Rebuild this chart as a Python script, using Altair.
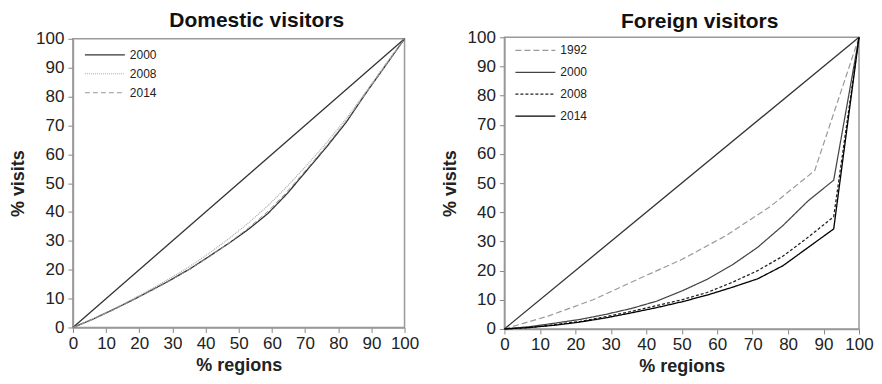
import altair as alt
import pandas as pd

# ---------------- data ----------------
equal_x = [0, 100]
equal_y = [0, 100]

dom_x = [0, 5.88, 11.76, 17.65, 23.53, 29.41, 35.29, 41.18, 47.06, 52.94,
         58.82, 64.71, 70.59, 76.47, 82.35, 88.24, 94.12, 100]
dom_2000 = [0, 2.8, 6.0, 9.3, 12.8, 16.4, 20.3, 24.7, 29.2, 34.0,
            39.5, 46.5, 54.5, 62.5, 71.0, 81.0, 90.5, 100]
dom_2008 = [0, 2.9, 6.1, 9.6, 13.3, 17.1, 21.2, 25.8, 30.8, 36.2,
            42.2, 49.0, 56.3, 64.0, 72.3, 81.5, 91.0, 100]
dom_2014 = [0, 2.7, 5.8, 9.2, 12.7, 16.3, 20.2, 24.5, 29.3, 34.5,
            40.2, 47.2, 55.0, 63.0, 71.5, 81.0, 90.5, 100]

for_x92 = [0, 12.5, 25, 37.5, 50, 62.5, 75, 87.5, 100]
for_1992 = [0, 4.5, 10.0, 17.0, 23.8, 32.0, 42.0, 54.3, 100]

for_x = [0, 7.14, 14.29, 21.43, 28.57, 35.71, 42.86, 50, 57.14, 64.29,
         71.43, 78.57, 85.71, 92.86, 100]
for_2000 = [0, 0.8, 2.0, 3.3, 5.0, 7.0, 9.5, 13.0, 17.0, 22.0,
            28.0, 35.5, 44.0, 51.0, 100]
for_2008 = [0, 0.5, 1.5, 2.6, 4.2, 6.0, 8.0, 10.0, 12.5, 16.0,
            20.0, 25.0, 31.5, 38.5, 100]
for_2014 = [0, 0.5, 1.3, 2.4, 3.8, 5.5, 7.3, 9.3, 11.6, 14.3,
            17.2, 21.7, 28.0, 34.3, 100]

ticks = list(range(0, 101, 10))

FONT = "Liberation Sans"


def long_df(series):
    rows = []
    for name, (xv, yv) in series.items():
        for i, (a, b) in enumerate(zip(xv, yv)):
            rows.append({"x": a, "y": b, "year": name, "order": i})
    return pd.DataFrame(rows)


def panel(title, df, years, colors, dashes, widths, w, h, toff, clip, rpad, lx, ly):
    xsc = alt.Scale(domain=[0, 100], nice=False)
    ysc = alt.Scale(domain=[0, 100], nice=False)
    xax = alt.Axis(values=ticks, title="% regions", labelFlush=False, labelOverlap=False,
                   grid=False, labelPadding=3, titlePadding=5)
    yax = alt.Axis(values=ticks, title="% visits", labelOverlap=False, grid=False,
                   labelPadding=4, titlePadding=8)
    eq = alt.Chart(pd.DataFrame({"x": equal_x, "y": equal_y})).mark_line(
        color="#333", strokeWidth=1.3
    ).encode(
        x=alt.X("x:Q", scale=xsc, axis=xax),
        y=alt.Y("y:Q", scale=ysc, axis=yax),
    )
    legend = alt.Legend(
        orient="none", legendX=lx, legendY=ly, title=None, symbolType="stroke",
        symbolSize=1600, clipHeight=clip, rowPadding=rpad,
        labelFont=FONT, labelFontSize=12, labelColor="#222", padding=0,
    )
    lines = alt.Chart(df).mark_line().encode(
        x=alt.X("x:Q", scale=xsc, axis=xax),
        y=alt.Y("y:Q", scale=ysc, axis=yax),
        order="order:Q",
        color=alt.Color("year:N", scale=alt.Scale(domain=years, range=colors), legend=legend),
        strokeDash=alt.StrokeDash("year:N", scale=alt.Scale(domain=years, range=dashes), legend=legend),
        strokeWidth=alt.StrokeWidth("year:N", scale=alt.Scale(domain=years, range=widths), legend=legend),
    )
    return alt.layer(eq, lines).properties(
        width=w, height=h,
        title=alt.TitleParams(title, fontSize=21, fontWeight="bold", font=FONT,
                              dx=18, offset=toff, frame="group", color="#111"),
    )


dom_df = long_df({"2000": (dom_x, dom_2000), "2008": (dom_x, dom_2008), "2014": (dom_x, dom_2014)})
for_df = long_df({"1992": (for_x92, for_1992), "2000": (for_x, for_2000),
                  "2008": (for_x, for_2008), "2014": (for_x, for_2014)})

left = panel("Domestic visitors", dom_df, ["2000", "2008", "2014"],
             ["#333", "#aaa", "#999"], [[1, 0], [1, 1], [5, 3]], [1.3, 1.0, 1.2],
             332, 289, -1, 18, 1, 11, 7)
right = panel("Foreign visitors", for_df, ["1992", "2000", "2008", "2014"],
              ["#999", "#444", "#222", "#000"], [[6, 3], [1, 0], [3, 2], [1, 0]],
              [1.2, 1.3, 1.5, 2.8], 355, 292, -4, 20, 2, 10, 3)

chart = alt.hconcat(left, right, spacing=20, center=True).properties(
    padding={"left": 0, "top": 0, "right": 0, "bottom": 0}
).configure_view(
    stroke="#999", strokeWidth=1.5
).configure_axis(
    labelFont=FONT, labelFontSize=17, labelColor="#222",
    titleFont=FONT, titleFontSize=18, titleFontWeight="bold", titleColor="#222",
    tickColor="#888", tickSize=5, domainColor="#999", domainWidth=1.5,
).resolve_scale(color="independent", strokeDash="independent", strokeWidth="independent")

chart.save("out.html", embed_options={"renderer": "svg", "actions": False})
